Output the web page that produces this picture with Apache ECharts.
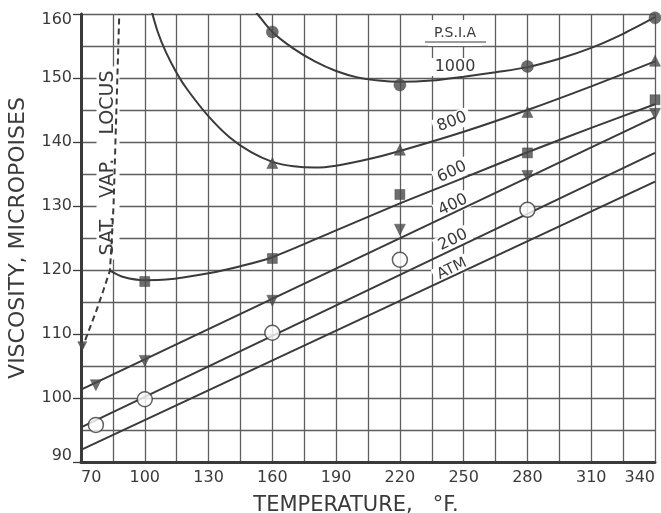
<!DOCTYPE html>
<html><head><meta charset="utf-8">
<script src="https://cdn.jsdelivr.net/npm/echarts@6/dist/echarts.min.js"></script>
<style>html,body{margin:0;padding:0;background:#fff}#c{width:661px;height:513px}</style>
</head><body><div id="c"></div>
<script>
// ---- tick labels ----
const xTickLabels = [70, 100, 130, 160, 190, 220, 250, 280, 310, 340];
const yTickLabels = [90, 100, 110, 120, 130, 140, 150, 160];

// ---- smoothed isobar curves [°F, micropoises] ----
const curve1000 = [[150,161.3],[153,160],[160,157.2],[170,154.6],[180,152.6],[190,151.1],[200,150.1],[210,149.6],[220,149.4],[235,149.6],[250,150.2],[265,150.9],[280,151.7],[295,153.0],[310,154.7],[325,156.9],[340,159.5]];
const curve800 = [[102,162],[106,157.3],[110,154.0],[115,150.8],[120,148.2],[130,144.0],[140,140.7],[150,138.4],[160,136.9],[170,136.2],[180,136.0],[190,136.3],[205,137.3],[220,138.6],[250,141.6],[280,145.0],[310,148.7],[340,152.6]];
const curve600 = [[83.6,119.9],[90,118.9],[100,118.4],[110,118.5],[130,119.5],[145,120.6],[160,122.0],[190,126.2],[220,130.4],[250,134.4],[280,138.4],[310,142.2],[340,145.9]];
const line400 = [[70,101.3],[340,143.9]];
const line200 = [[70,95.4],[340,138.3]];
const lineAtm = [[70,91.9],[340,133.8]];
const satVapLocus = [[70.3,107.6],[74,110.8],[77.4,113.8],[80.5,116.8],[83.6,119.9],[84.4,124.2],[85.3,130],[86.2,140],[87.1,150],[88,160]];

// ---- measured points ----
const pts1000 = [[160,157.2],[220,148.9],[280,151.8],[340,159.4]];
const pts800 = [[160,136.7],[220,138.8],[280,144.7],[340,152.7]];
const pts600 = [[100,118.2],[160,121.8],[220,131.8],[280,138.3],[340,146.6]];
const pts400 = [[77,102.0],[100,105.8],[160,115.2],[220,126.3],[280,134.7],[340,144.4]];
const pts200 = [[77,95.8],[100,99.8],[160,110.2],[220,121.6],[280,129.4]];
const satVapPoint = [[70.6,108.1]];

const INK = '#3a3a3a';
const GRID = '#5e5e5e';
const F = 'DejaVu Sans';

function curve(name, data, smooth, dashed) {
  return { name, type: 'line', data, smooth, showSymbol: false, symbol: 'none', clip: true, silent: true,
    lineStyle: { color: INK, width: 2, type: dashed ? [6, 4] : 'solid' }, z: 3 };
}
function marks(name, data, symbol, size, opts) {
  return Object.assign({ name, type: 'scatter', data, symbol, symbolSize: size, silent: true, z: 4,
    itemStyle: { color: '#4a4a4a', borderColor: '#3a3a3a', borderWidth: 0.5 } }, opts || {});
}
function label(text, x, y, rotDeg, size, pad) {
  return { type: 'text', x, y, z: 1, rotation: rotDeg * Math.PI / 180, silent: true,
    style: { text, fontSize: size, fontFamily: F, fill: INK, align: 'center', verticalAlign: 'middle',
      backgroundColor: '#fff', padding: pad || [1, 4, 1, 4] } };
}

const chart = echarts.init(document.getElementById('c'), null, { renderer: 'canvas' });
chart.setOption({
  animation: false,
  backgroundColor: '#fff',
  grid: { left: 81, right: 6, top: 14, bottom: 51, containLabel: false, outerBoundsMode: 'none' },
  xAxis: [
    { type: 'value', min: 70, max: 340, interval: 10,
      name: 'TEMPERATURE,   °F.', nameLocation: 'middle', nameGap: 33,
      nameTextStyle: { fontSize: 21, fontFamily: F, color: INK, padding: [0, 24, 0, 0] },
      axisLine: { show: true, onZero: false, lineStyle: { color: INK, width: 3 } },
      axisTick: { show: false }, splitLine: { show: false },
      axisLabel: { fontSize: 16, fontFamily: F, color: INK, margin: 8,
        alignMinLabel: 'left', alignMaxLabel: 'right',
        formatter: v => xTickLabels.includes(v) ? String(v) : '' } },
    { type: 'value', min: 0, max: 270, interval: 15, position: 'bottom',
      axisLine: { show: false }, axisTick: { show: false }, axisLabel: { show: false },
      splitLine: { show: true, lineStyle: { color: GRID, width: 1.3 } } }
  ],
  yAxis: {
    type: 'value', min: 90, max: 160, interval: 10,
    name: 'VISCOSITY, MICROPOISES', nameLocation: 'middle', nameGap: 52, nameRotate: 90,
    nameTextStyle: { fontSize: 22, fontFamily: F, color: INK },
    axisLine: { show: true, onZero: false, lineStyle: { color: INK, width: 3 } },
    axisTick: { show: true, inside: false, length: 8, lineStyle: { color: INK, width: 1.3 } },
    axisLabel: { fontSize: 16, fontFamily: F, color: INK, margin: 9, lineHeight: 12,
      verticalAlignMinLabel: 'bottom', verticalAlignMaxLabel: 'top',
      formatter: v => yTickLabels.includes(v) ? String(v) : '' },
    splitLine: { show: true, lineStyle: { color: GRID, width: 1.3 } },
    minorTick: { show: false, splitNumber: 2 },
    minorSplitLine: { show: true, lineStyle: { color: GRID, width: 1.3 } }
  },
  graphic: [
    label('P.S.I.A', 455, 33, 0, 14, [4, 6, 8, 6]),
    { type: 'line', z: 1, z2: 10, silent: true, shape: { x1: 425, y1: 42, x2: 486, y2: 42 }, style: { stroke: INK, lineWidth: 1.2 } },
    label('1000', 455, 67, 0, 16, [2, 4, 0, 4]),
    label('800', 452, 122, 21, 16),
    label('600', 452, 172, 25, 16),
    label('400', 453, 205, 25, 16),
    label('200', 453, 240, 25, 16),
    label('ATM', 452, 269, 26, 15),
    label('SAT.   VAP.    LOCUS', 108, 163, 90, 19, [2, 4, 2, 4])
  ],
  series: [
    curve('1000 psia', curve1000, 0.3),
    curve('800 psia', curve800, 0.3),
    curve('600 psia', curve600, 0.3),
    curve('400 psia', line400, false),
    curve('200 psia', line200, false),
    curve('ATM', lineAtm, false),
    curve('Sat. vap. locus', satVapLocus, false, true),
    marks('1000 psia pts', pts1000, 'circle', 12),
    marks('800 psia pts', pts800, 'triangle', 11),
    marks('600 psia pts', pts600, 'rect', 10),
    marks('400 psia pts', pts400, 'triangle', 11, { symbolRotate: 180 }),
    marks('200 psia pts', pts200, 'circle', 15, { itemStyle: { color: '#fff', borderColor: INK, borderWidth: 1.5 } }),
    marks('sat. vap. point', satVapPoint, 'triangle', 9, { symbolRotate: 180 })
  ]
});
</script></body></html>
